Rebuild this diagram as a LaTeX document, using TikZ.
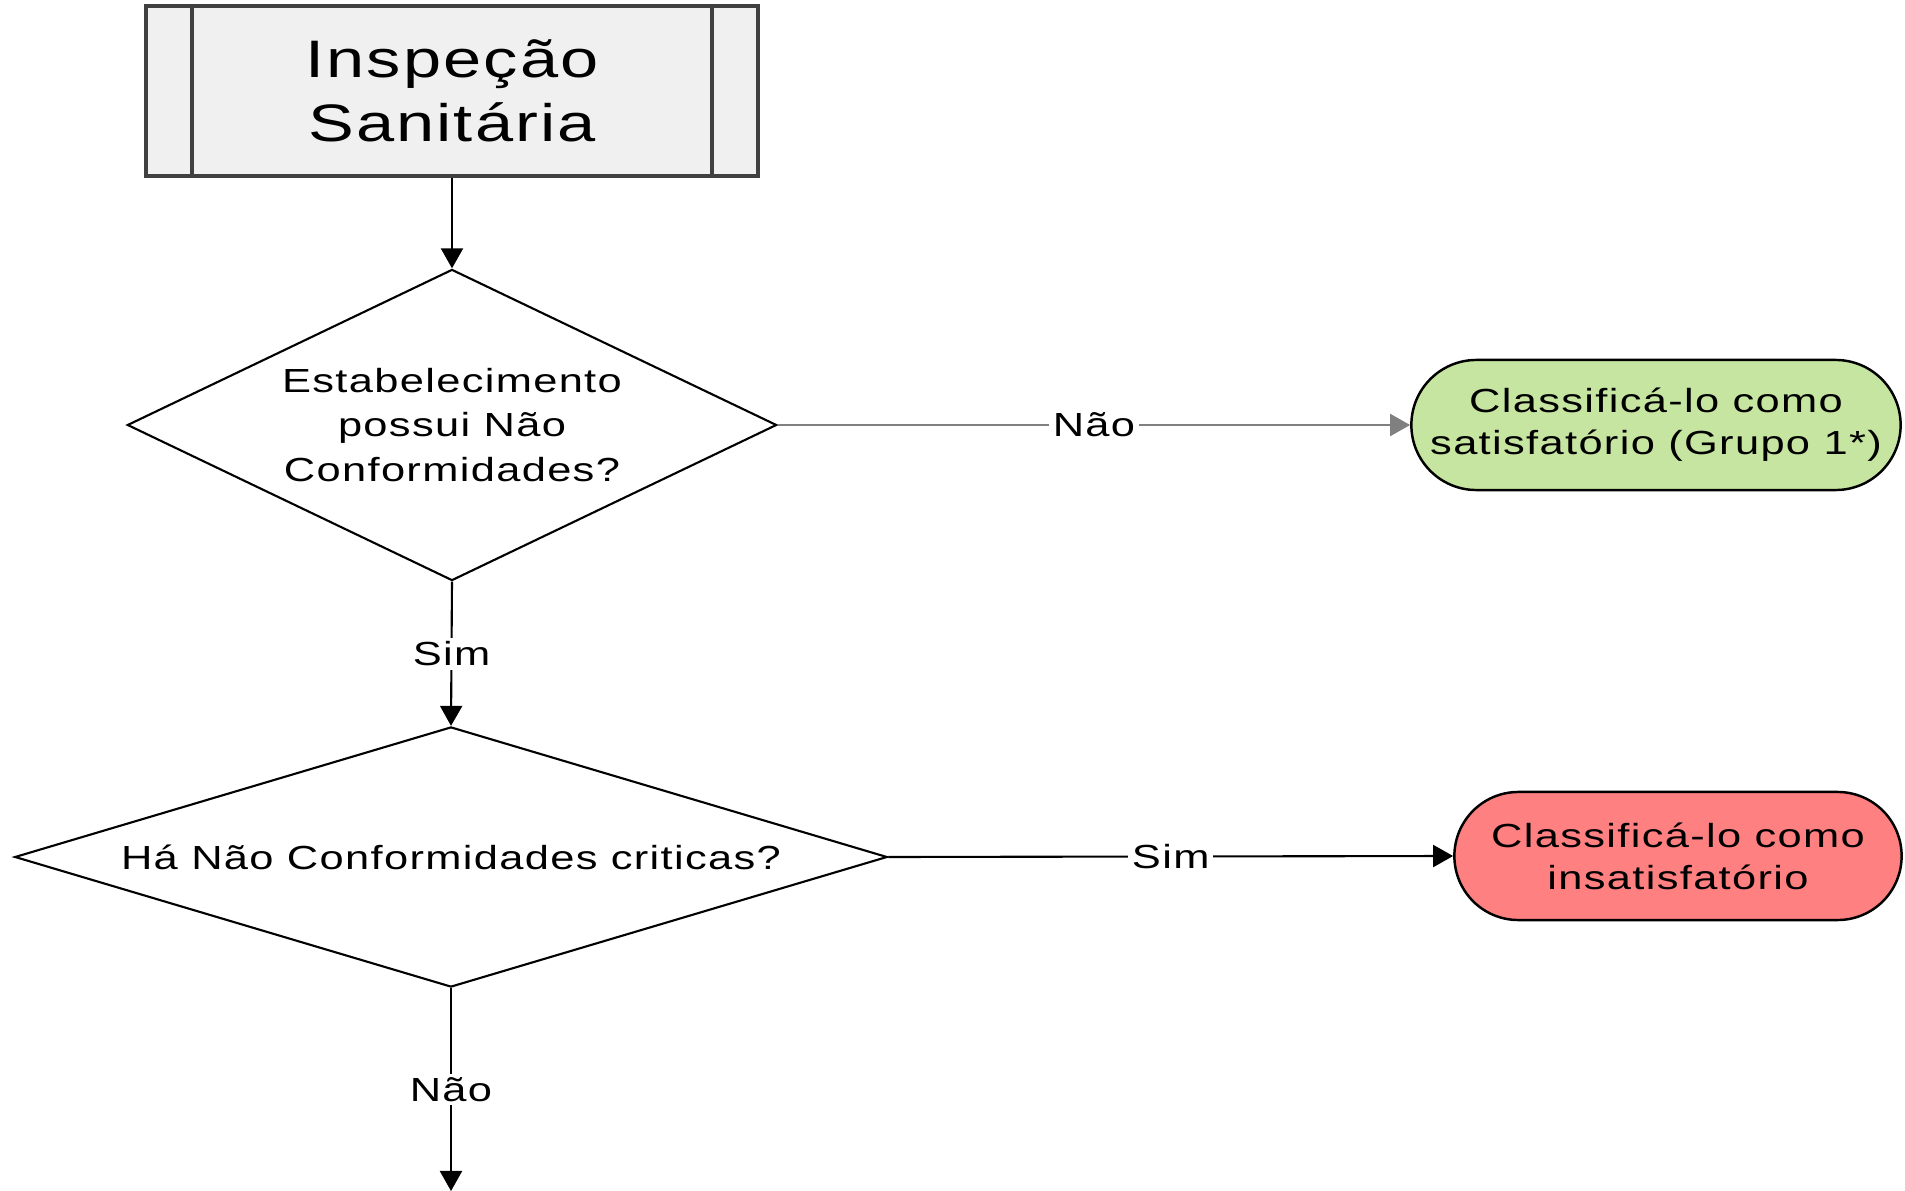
\documentclass[tikz,border=0pt]{standalone}
\usepackage{fontspec}
\setmainfont{Liberation Sans}[FakeStretch=1.3, LetterSpace=4]
\definecolor{boxgray}{RGB}{240,240,240}
\definecolor{okgreen}{RGB}{198,229,160}
\definecolor{badred}{RGB}{255,128,128}
\definecolor{linegray}{RGB}{128,128,128}
\usetikzlibrary{
    shapes.geometric,
    shapes.misc,
    arrows.meta,
    positioning
}
\tikzset{
    procbox/.style={draw=black!75, line width=1.1pt, fill=boxgray, minimum width=6.12cm, minimum height=1.70cm, align=center, font=\fontsize{15}{18.3}\selectfont},
    decision/.style={diamond, draw, line width=0.6pt, inner sep=0pt, align=center, font=\fontsize{9.5}{12.6}\selectfont},
    outcome/.style={rounded rectangle, draw, line width=0.7pt, inner sep=0pt, align=center, font=\fontsize{9.5}{12}\selectfont},
    flow/.style={line width=0.6pt, -{Triangle[length=0.2cm, width=0.22cm]}},
    answer/.style={fill=white, inner sep=1pt, font=\fontsize{9.5}{12}\selectfont}
}
\begin{document}
\begin{tikzpicture}[x=0.01cm, y=-0.01cm]
    \useasboundingbox (0,0) rectangle (1905,1191);

    % Inspection box
    \node[procbox] (insp) at (452,91) {Inspeção\\Sanitária};
    \draw[draw=black!75, line width=1.1pt] ([xshift=0.48cm]insp.north west) -- ([xshift=0.48cm]insp.south west);
    \draw[draw=black!75, line width=1.1pt] ([xshift=-0.48cm]insp.north east) -- ([xshift=-0.48cm]insp.south east);

    % Decisions
    \node[decision, shape aspect=2.09, minimum width=6.49cm, minimum height=3.11cm] (nc) at (452,425) {Estabelecimento\\possui Não\\Conformidades?};
    \node[decision, shape aspect=3.35, minimum width=8.72cm, minimum height=2.60cm] (crit) at (451,857) {Há Não Conformidades criticas?};

    % Outcomes
    \node[outcome, fill=okgreen, minimum width=4.89cm, minimum height=1.30cm] (sat) at (1656,425) {Classificá-lo como\\satisfatório (Grupo 1*)};
    \node[outcome, fill=badred, minimum width=4.47cm, minimum height=1.28cm] (insat) at (1678,856) {Classificá-lo como\\insatisfatório};

    \coordinate (next) at (451,1191);

    % Connectors
    \draw[flow] (insp) -- (nc);
    \draw[flow, draw=linegray] (nc.east) -- node[answer] {Não} (sat.west);
    \draw[flow] (nc.south) -- node[answer] {Sim} (crit.north);
    \draw[flow] (crit.east) -- node[answer] {Sim} (insat.west);
    \draw[flow] (crit.south) -- node[answer] {Não} (next);
\end{tikzpicture}
\end{document}
